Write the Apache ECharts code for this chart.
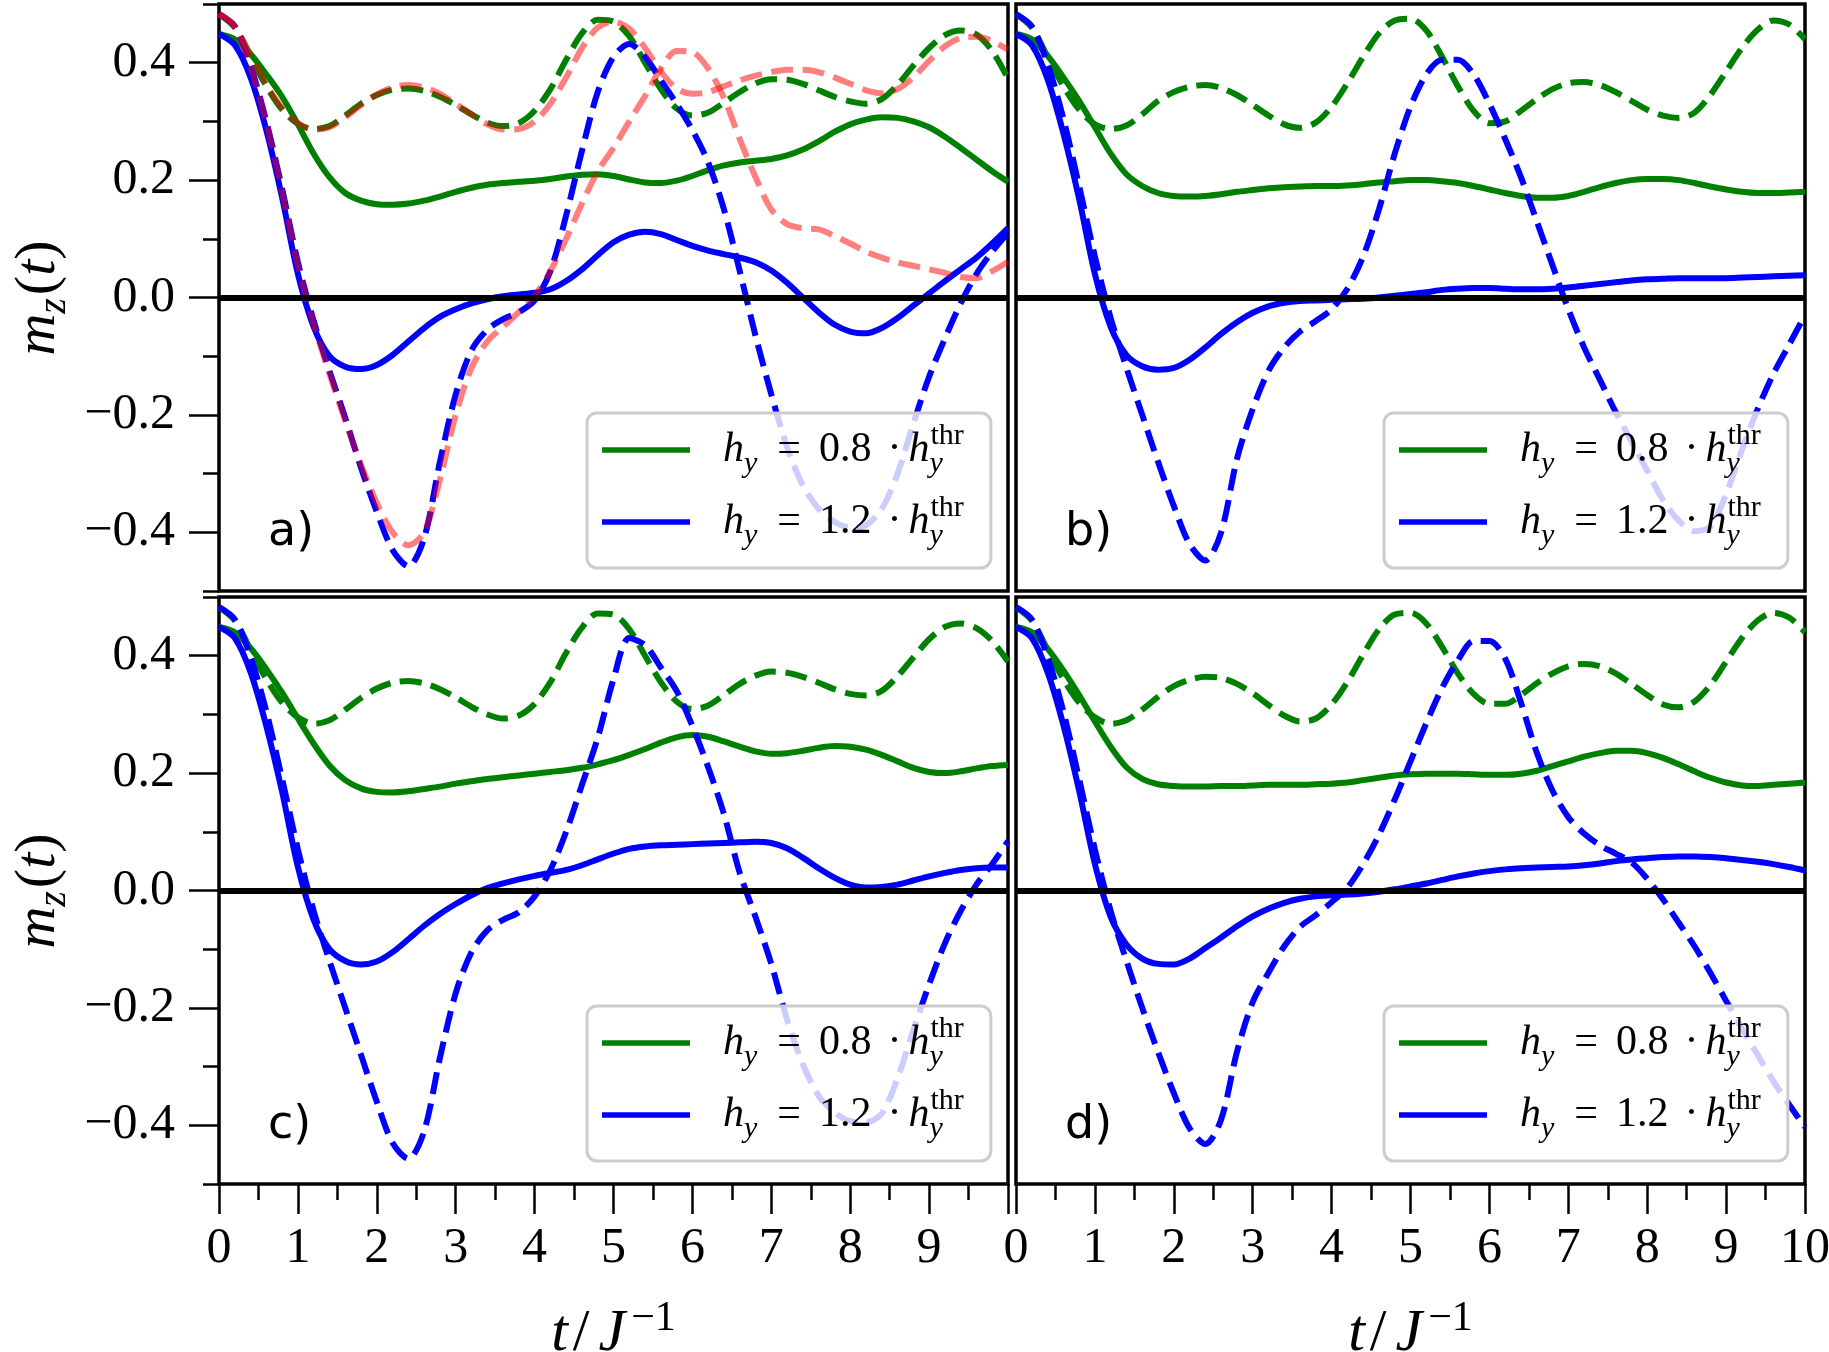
<!DOCTYPE html>
<html>
<head>
<meta charset="utf-8">
<script src="https://cdn.jsdelivr.net/npm/echarts@6/dist/echarts.min.js"></script>
<style>
  html, body { margin: 0; padding: 0; background: #fff; }
  #main { width: 1829px; height: 1352px; }
</style>
</head>
<body>
<div id="main"></div>
<script>
// time axis, t / J^-1
var tGrid = [0, 0.2, 0.4, 0.6, 0.8, 1, 1.2, 1.4, 1.6, 1.8,
  2, 2.2, 2.4, 2.6, 2.8, 3, 3.2, 3.4, 3.6, 3.8,
  4, 4.2, 4.4, 4.6, 4.8, 5, 5.2, 5.4, 5.6, 5.8,
  6, 6.2, 6.4, 6.6, 6.8, 7, 7.2, 7.4, 7.6, 7.8,
  8, 8.2, 8.4, 8.6, 8.8, 9, 9.2, 9.4, 9.6, 9.8, 10];

var yMajorTicks = [-0.4, -0.2, 0, 0.2, 0.4];
var yMinorTicks = [-0.5, -0.3, -0.1, 0.1, 0.3, 0.5];
var panelLetters = ['a)', 'b)', 'c)', 'd)'];
var legendLabels = ['0.8', '1.2'];

// panel a
var greenSolidA = [0.449, 0.44, 0.415, 0.38, 0.342, 0.295, 0.245, 0.205, 0.178, 0.165,
  0.159, 0.158, 0.16, 0.165, 0.172, 0.18, 0.187, 0.192, 0.195, 0.197,
  0.199, 0.202, 0.206, 0.209, 0.21, 0.207, 0.201, 0.196, 0.195, 0.199,
  0.207, 0.217, 0.225, 0.23, 0.233, 0.236, 0.242, 0.252, 0.266, 0.282,
  0.295, 0.303, 0.307, 0.306, 0.3, 0.29, 0.274, 0.255, 0.235, 0.215, 0.197];
var greenDashA = [0.483, 0.46, 0.41, 0.36, 0.32, 0.296, 0.287, 0.292, 0.31, 0.33,
  0.345, 0.354, 0.356, 0.352, 0.342, 0.328, 0.312, 0.298, 0.292, 0.297,
  0.318, 0.355, 0.405, 0.45, 0.473, 0.47, 0.445, 0.4, 0.355, 0.322,
  0.31, 0.315, 0.332, 0.35, 0.365, 0.372, 0.371, 0.364, 0.353, 0.342,
  0.334, 0.33, 0.338, 0.362, 0.395, 0.425, 0.447, 0.455, 0.448, 0.42, 0.373];
var blueSolidA = [0.449, 0.43, 0.375, 0.285, 0.17, 0.04, -0.05, -0.1, -0.118, -0.122,
  -0.115, -0.098, -0.075, -0.052, -0.033, -0.02, -0.01, -0.003, 0.002, 0.005,
  0.008, 0.014, 0.028, 0.048, 0.072, 0.094, 0.107, 0.112, 0.108, 0.098,
  0.088, 0.08, 0.074, 0.068, 0.06, 0.046, 0.025, 0.0, -0.025, -0.046,
  -0.058, -0.061, -0.052, -0.035, -0.014, 0.007, 0.028, 0.048, 0.068, 0.092, 0.118];
var blueDashA = [0.483, 0.462, 0.395, 0.3, 0.185, 0.06, -0.04, -0.125, -0.205, -0.29,
  -0.365, -0.43, -0.458, -0.41, -0.28, -0.165, -0.09, -0.055, -0.037, -0.025,
  -0.005, 0.045, 0.14, 0.25, 0.35, 0.41, 0.432, 0.41, 0.37, 0.33,
  0.285, 0.23, 0.15, 0.045, -0.065, -0.165, -0.255, -0.32, -0.36, -0.382,
  -0.392, -0.388, -0.36, -0.3, -0.215, -0.135, -0.07, -0.01, 0.04, 0.078, 0.11];
var pinkHighA = [0.483, 0.462, 0.413, 0.363, 0.323, 0.297, 0.286, 0.29, 0.307, 0.328,
  0.346, 0.358, 0.362, 0.358, 0.347, 0.33, 0.312, 0.295, 0.286, 0.287,
  0.3, 0.33, 0.375, 0.425, 0.46, 0.47, 0.458, 0.425, 0.385, 0.356,
  0.347, 0.35, 0.36, 0.37, 0.378, 0.384, 0.388, 0.388, 0.384, 0.375,
  0.364, 0.353, 0.348, 0.355, 0.375, 0.403, 0.428, 0.442, 0.444, 0.437, 0.422];
var pinkLowA = [0.483, 0.462, 0.392, 0.297, 0.18, 0.055, -0.045, -0.13, -0.21, -0.285,
  -0.35, -0.4, -0.422, -0.4, -0.31, -0.2, -0.12, -0.075, -0.05, -0.025,
  0.003, 0.045, 0.1, 0.16, 0.215, 0.255, 0.3, 0.343, 0.39, 0.42,
  0.418, 0.39, 0.34, 0.27, 0.205, 0.15, 0.125, 0.118, 0.116, 0.105,
  0.092, 0.078, 0.068, 0.06, 0.054, 0.048, 0.042, 0.035, 0.033, 0.045, 0.061];

// panel b
var greenSolidB = [0.449, 0.44, 0.412, 0.375, 0.335, 0.29, 0.245, 0.21, 0.19, 0.178,
  0.173, 0.172, 0.173, 0.176, 0.18, 0.183, 0.186, 0.188, 0.189, 0.19,
  0.19, 0.191, 0.193, 0.196, 0.198, 0.2, 0.2, 0.198, 0.195, 0.19,
  0.184, 0.178, 0.173, 0.17, 0.17, 0.173, 0.18, 0.188, 0.195, 0.2,
  0.202, 0.202, 0.2, 0.195, 0.189, 0.184, 0.18, 0.178, 0.178, 0.179, 0.18];
var greenDashB = [0.483, 0.46, 0.41, 0.36, 0.32, 0.295, 0.287, 0.293, 0.312, 0.335,
  0.35, 0.359, 0.362, 0.357, 0.345, 0.328, 0.31, 0.295, 0.289, 0.298,
  0.325, 0.365, 0.41, 0.45, 0.472, 0.475, 0.455, 0.41, 0.36, 0.318,
  0.297, 0.3, 0.318, 0.338, 0.355, 0.365, 0.367, 0.362, 0.35, 0.335,
  0.32, 0.31, 0.306, 0.315, 0.345, 0.385, 0.425, 0.456, 0.472, 0.465, 0.44];
var blueSolidB = [0.449, 0.43, 0.372, 0.28, 0.168, 0.04, -0.05, -0.098, -0.117, -0.123,
  -0.12, -0.106, -0.085, -0.062, -0.042, -0.026, -0.015, -0.009, -0.006, -0.005,
  -0.004, -0.003, -0.002, 0.0, 0.003, 0.006, 0.009, 0.013, 0.015, 0.016,
  0.016, 0.015, 0.014, 0.014, 0.015, 0.017, 0.02, 0.023, 0.026, 0.029,
  0.031, 0.032, 0.033, 0.033, 0.033, 0.033, 0.034, 0.035, 0.036, 0.037, 0.038];
var blueDashB = [0.483, 0.462, 0.398, 0.305, 0.19, 0.07, -0.035, -0.12, -0.2, -0.28,
  -0.355, -0.42, -0.448, -0.4, -0.275, -0.19, -0.125, -0.085, -0.058, -0.04,
  -0.02, 0.015, 0.07, 0.15, 0.245, 0.325, 0.38, 0.405, 0.405, 0.38,
  0.33, 0.27, 0.205, 0.13, 0.055, -0.02, -0.085, -0.14, -0.195, -0.245,
  -0.295, -0.345, -0.38, -0.398, -0.39, -0.335, -0.26, -0.19, -0.13, -0.08, -0.03];

// panel c
var greenSolidC = [0.449, 0.44, 0.413, 0.377, 0.337, 0.293, 0.25, 0.213, 0.188, 0.174,
  0.168, 0.167, 0.169, 0.173, 0.177, 0.182, 0.186, 0.19, 0.193, 0.196,
  0.199, 0.202, 0.205, 0.209, 0.215, 0.222, 0.231, 0.241, 0.252, 0.261,
  0.265, 0.262, 0.254, 0.245, 0.237, 0.233, 0.234, 0.238, 0.243, 0.246,
  0.245, 0.24, 0.231, 0.22, 0.209, 0.202, 0.2, 0.203, 0.208, 0.212, 0.214];
var greenDashC = [0.483, 0.46, 0.41, 0.36, 0.32, 0.295, 0.284, 0.29, 0.308, 0.328,
  0.344, 0.354, 0.357, 0.353, 0.343, 0.329, 0.313, 0.3, 0.293, 0.298,
  0.318, 0.355, 0.405, 0.448, 0.472, 0.47, 0.445, 0.4, 0.355, 0.322,
  0.309, 0.315, 0.333, 0.352, 0.366, 0.373, 0.371, 0.364, 0.354, 0.343,
  0.335, 0.332, 0.34, 0.365, 0.397, 0.428, 0.449, 0.455, 0.447, 0.425, 0.39];
var blueSolidC = [0.449, 0.43, 0.372, 0.28, 0.168, 0.04, -0.05, -0.1, -0.12, -0.126,
  -0.121, -0.105, -0.083, -0.06, -0.04, -0.023, -0.008, 0.004, 0.012, 0.019,
  0.025, 0.03, 0.035, 0.043, 0.053, 0.063, 0.071, 0.075, 0.077, 0.078,
  0.079, 0.08, 0.081, 0.082, 0.083, 0.081, 0.072, 0.056, 0.038, 0.022,
  0.01, 0.005, 0.006, 0.01, 0.017, 0.024, 0.03, 0.035, 0.038, 0.039, 0.039];
var blueDashC = [0.483, 0.462, 0.398, 0.305, 0.19, 0.07, -0.035, -0.12, -0.2, -0.28,
  -0.36, -0.43, -0.457, -0.41, -0.285, -0.175, -0.105, -0.068, -0.05, -0.037,
  -0.01, 0.035, 0.1, 0.18, 0.26, 0.36, 0.43, 0.418, 0.38, 0.34,
  0.28, 0.21, 0.13, 0.03, -0.045, -0.125, -0.22, -0.296, -0.35, -0.378,
  -0.393, -0.395, -0.38, -0.32, -0.238, -0.16, -0.09, -0.035, 0.01, 0.045, 0.084];

// panel d
var greenSolidD = [0.449, 0.44, 0.412, 0.375, 0.333, 0.288, 0.245, 0.21, 0.19, 0.181,
  0.178, 0.177, 0.177, 0.178, 0.178, 0.179, 0.18, 0.18, 0.18, 0.181,
  0.182, 0.184, 0.188, 0.192, 0.196, 0.198, 0.199, 0.199, 0.199, 0.198,
  0.197, 0.197, 0.199, 0.204, 0.212, 0.22, 0.228, 0.234, 0.238, 0.238,
  0.234, 0.226, 0.215, 0.203, 0.192, 0.184, 0.179, 0.178, 0.18, 0.182, 0.184];
var greenDashD = [0.483, 0.46, 0.41, 0.36, 0.32, 0.295, 0.284, 0.29, 0.308, 0.33,
  0.348, 0.359, 0.364, 0.362, 0.352, 0.336, 0.316, 0.298, 0.288, 0.293,
  0.317, 0.355, 0.402, 0.445, 0.47, 0.473, 0.455, 0.415, 0.37, 0.335,
  0.318, 0.318, 0.333, 0.353, 0.37, 0.382, 0.386, 0.382, 0.37, 0.352,
  0.333, 0.317, 0.312, 0.322, 0.35, 0.39, 0.43, 0.46, 0.473, 0.465, 0.44];
var blueSolidD = [0.449, 0.43, 0.372, 0.282, 0.17, 0.045, -0.045, -0.092, -0.116, -0.125,
  -0.126, -0.116, -0.098, -0.08, -0.061, -0.044, -0.031, -0.021, -0.014, -0.01,
  -0.008, -0.007, -0.005, -0.002, 0.002, 0.007, 0.012, 0.018, 0.024, 0.029,
  0.033, 0.036, 0.038, 0.039, 0.04, 0.041, 0.043, 0.046, 0.05, 0.053,
  0.055, 0.057, 0.058, 0.058, 0.057, 0.055, 0.052, 0.049, 0.045, 0.04, 0.034];
var blueDashD = [0.483, 0.462, 0.398, 0.305, 0.19, 0.07, -0.035, -0.12, -0.2, -0.275,
  -0.345, -0.405, -0.432, -0.39, -0.275, -0.19, -0.14, -0.095, -0.062, -0.042,
  -0.02, 0.005, 0.045, 0.095, 0.155, 0.22, 0.285, 0.345, 0.392, 0.425,
  0.425, 0.395, 0.32, 0.235, 0.17, 0.125, 0.097, 0.077, 0.063, 0.048,
  0.02, -0.015, -0.055, -0.095, -0.14, -0.188, -0.235, -0.28, -0.325, -0.365, -0.403];

var SERIF = 'Liberation Serif';
var SANS = 'DejaVu Sans';
var GREEN = '#008000', BLUE = '#0000ff', PINK = 'rgba(255,0,0,0.5)';
var LW = 6, DASH = [22, 9.5];

var gridW = 789, gridH = 587;
var grids = [
  { left: 219, top: 4 },
  { left: 1016, top: 4 },
  { left: 219, top: 597 },
  { left: 1016, top: 597 }
];

var panelCurves = [
  [[greenSolidA, GREEN, false, 'hy08'], [greenDashA, GREEN, true], [blueSolidA, BLUE, false, 'hy12'],
   [blueDashA, BLUE, true], [pinkHighA, PINK, true], [pinkLowA, PINK, true]],
  [[greenSolidB, GREEN, false, 'hy08'], [greenDashB, GREEN, true], [blueSolidB, BLUE, false, 'hy12'], [blueDashB, BLUE, true]],
  [[greenSolidC, GREEN, false, 'hy08'], [greenDashC, GREEN, true], [blueSolidC, BLUE, false, 'hy12'], [blueDashC, BLUE, true]],
  [[greenSolidD, GREEN, false, 'hy08'], [greenDashD, GREEN, true], [blueSolidD, BLUE, false, 'hy12'], [blueDashD, BLUE, true]]
];

function pairs(values) {
  return tGrid.map(function (t, i) { return [t, values[i]]; });
}

function yFmt(v) {
  return (v < 0 ? '\u2212' : '') + Math.abs(v).toFixed(1);
}

var tickLine = { color: '#000', width: 2.5 };

var xAxes = grids.map(function (g, i) {
  var bottomRow = i >= 2;
  return {
    type: 'value', gridIndex: i, position: 'bottom', min: 0, max: 10, interval: 1,
    axisLine: { show: false, onZero: false },
    splitLine: { show: false },
    minorSplitLine: { show: false },
    axisTick: { show: bottomRow, inside: false, length: 30, lineStyle: tickLine },
    minorTick: { show: bottomRow, splitNumber: 2, length: 16, lineStyle: tickLine },
    axisLabel: {
      show: bottomRow, margin: 40, color: '#000', fontFamily: SERIF, fontSize: 50,
      formatter: function (v) { return (i === 2 && v === 10) ? '' : String(v); }
    }
  };
});

var yAxes = [];
grids.forEach(function (g, i) {
  var leftCol = (i % 2 === 0);
  yAxes.push({
    type: 'value', gridIndex: i, position: 'left', min: -0.5, max: 0.5,
    axisLine: { show: false, onZero: false }, splitLine: { show: false },
    axisTick: { show: leftCol, length: 30, customValues: yMajorTicks, lineStyle: tickLine },
    axisLabel: {
      show: leftCol, customValues: yMajorTicks, margin: 44, color: '#000',
      fontFamily: SERIF, fontSize: 50, formatter: yFmt
    }
  });
  yAxes.push({
    type: 'value', gridIndex: i, position: 'left', min: -0.5, max: 0.5,
    axisLine: { show: false, onZero: false }, splitLine: { show: false },
    axisTick: { show: leftCol, length: 16, customValues: yMinorTicks, lineStyle: tickLine },
    axisLabel: { show: false }
  });
});

var series = [];
panelCurves.forEach(function (curves, gi) {
  curves.forEach(function (c, k) {
    var s = {
      type: 'line', name: c[3] || ('dash' + gi + '_' + k),
      xAxisIndex: gi, yAxisIndex: gi * 2,
      data: pairs(c[0]), showSymbol: false, symbol: 'none', smooth: 0.3,
      lineStyle: { color: c[1], width: LW, type: c[2] ? DASH : 'solid', cap: 'butt' },
      itemStyle: { color: c[1] },
      emphasis: { disabled: true }, silent: true, z: 2
    };
    if (k === curves.length - 1) {
      s.markLine = {
        silent: true, symbol: ['none', 'none'], label: { show: false },
        lineStyle: { color: '#000', width: 6, type: 'solid' },
        emphasis: { disabled: true },
        data: [{ yAxis: 0 }]
      };
    }
    series.push(s);
  });
});

var legendRich = {
  s: { width: 28 },
  i: { fontFamily: SERIF, fontStyle: 'italic', fontSize: 42 },
  b: { fontFamily: SERIF, fontStyle: 'italic', fontSize: 30, verticalAlign: 'bottom' },
  b2: { fontFamily: SERIF, fontStyle: 'italic', fontSize: 30, verticalAlign: 'bottom', width: 1 },
  eq: { fontFamily: SERIF, fontSize: 42, padding: [0, 18, 0, 20] },
  n: { fontFamily: SERIF, fontSize: 42 },
  dot: { fontFamily: SERIF, fontSize: 42, padding: [0, 7, 0, 16] },
  p: { fontFamily: SERIF, fontSize: 30, verticalAlign: 'top' }
};

function legendText(name) {
  var num = name === 'hy08' ? legendLabels[0] : legendLabels[1];
  return '{s| }{i|h}{b|y}{eq|=}{n|' + num + '}{dot|\u00b7}{i|h}{b2|y}{p|thr}';
}

var legends = grids.map(function (g) {
  return {
    orient: 'vertical', left: g.left + 368, top: g.top + 409,
    data: ['hy08', 'hy12'], icon: 'rect', itemWidth: 88, itemHeight: 5.5, itemGap: 14,
    padding: [8, 27, 17, 15],
    backgroundColor: 'rgba(255,255,255,0.8)', borderColor: '#cccccc', borderWidth: 3, borderRadius: 10,
    selectedMode: false, formatter: legendText, z: 6,
    textStyle: { color: '#000', fontFamily: SERIF, fontSize: 42, lineHeight: 58, rich: legendRich }
  };
});

var yNameRich = {
  m: { fontFamily: SERIF, fontStyle: 'italic', fontSize: 58 },
  z: { fontFamily: SERIF, fontStyle: 'italic', fontSize: 40, verticalAlign: 'bottom', padding: [0, 3, 0, 0] },
  p: { fontFamily: SERIF, fontSize: 58 },
  t: { fontFamily: SERIF, fontStyle: 'italic', fontSize: 58 }
};
var xNameRich = {
  t: { fontFamily: SERIF, fontStyle: 'italic', fontSize: 60 },
  sl: { fontFamily: SERIF, fontSize: 60, padding: [0, 9, 0, 5] },
  j: { fontFamily: SERIF, fontStyle: 'italic', fontSize: 60, padding: [0, 6, 0, 0] },
  e: { fontFamily: SERIF, fontSize: 42, verticalAlign: 'top' }
};

var graphics = [];
grids.forEach(function (g, i) {
  graphics.push({
    type: 'text', x: g.left + 49, y: g.top + 529, z: 10, silent: true,
    style: { text: panelLetters[i], fill: '#000', fontFamily: SANS, fontSize: 46, align: 'left', verticalAlign: 'middle' }
  });
  if (i % 2 === 0) {
    graphics.push({
      type: 'text', x: 39, y: g.top + 294, rotation: Math.PI / 2, silent: true,
      style: {
        text: '{m|m}{z|z}{p|(}{t|t}{p|)}', rich: yNameRich, fill: '#000',
        lineHeight: 70, align: 'center', verticalAlign: 'middle'
      }
    });
  }
  if (i >= 2) {
    graphics.push({
      type: 'text', x: g.left + gridW / 2, y: 1334, silent: true,
      style: {
        text: '{t|t}{sl|/}{j|J}{e|\u22121}', rich: xNameRich, fill: '#000',
        lineHeight: 72, align: 'center', verticalAlign: 'middle'
      }
    });
  }
});

var chart = echarts.init(document.getElementById('main'));
chart.setOption({
  animation: false,
  backgroundColor: '#fff',
  textStyle: { fontFamily: SERIF },
  grid: grids.map(function (g) {
    return {
      left: g.left, top: g.top, width: gridW, height: gridH, show: true,
      borderColor: '#000', borderWidth: 3.5, backgroundColor: 'transparent',
      containLabel: false, outerBoundsMode: 'none'
    };
  }),
  xAxis: xAxes,
  yAxis: yAxes,
  legend: legends,
  graphic: graphics,
  series: series
});
</script>
</body>
</html>
